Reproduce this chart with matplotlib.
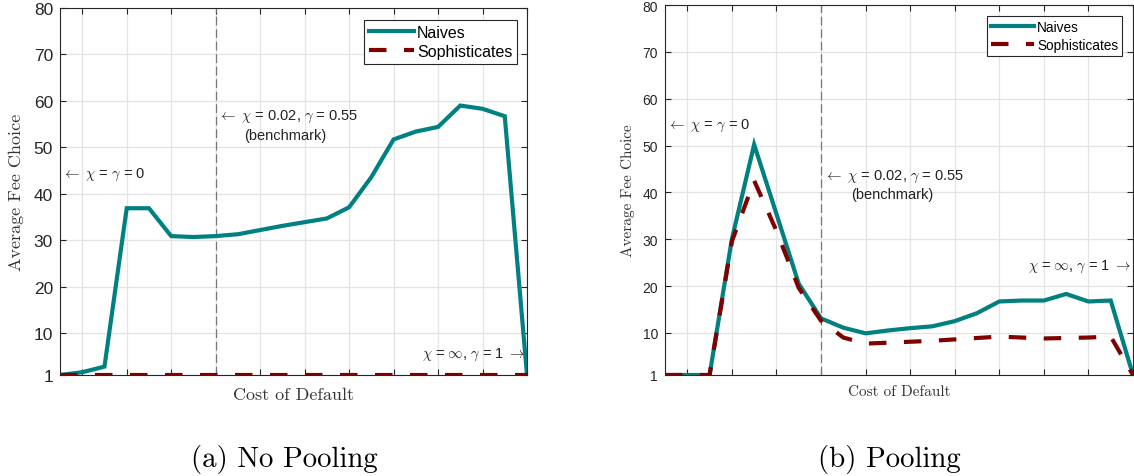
import matplotlib
matplotlib.use('Agg')
import matplotlib.pyplot as plt
import numpy as np

plt.rcParams['font.family'] = ['Liberation Sans', 'DejaVu Sans']
plt.rcParams['mathtext.fontset'] = 'cm'

# cost-of-default grid points (22 values, no labels shown)
cost_idx = np.arange(22)
x_ticks = np.arange(1, 22, 2)
y_ticks = [1, 10, 20, 30, 40, 50, 60, 70, 80]
benchmark_idx = 7

# (a) No Pooling
nopool_naives = [1.0, 1.6, 2.8, 36.9, 36.9, 30.9, 30.7, 30.9, 31.3, 32.2, 33.1, 33.9,
                 34.7, 37.1, 43.6, 51.7, 53.4, 54.4, 59.0, 58.3, 56.7, 1.0]
nopool_soph = [1.0] * 22

# (b) Pooling
pool_naives = [1.0, 1.0, 1.0, 30.0, 50.2, 35.4, 20.5, 13.1, 11.1, 9.9, 10.5, 11.0,
               11.4, 12.5, 14.2, 16.7, 16.9, 16.9, 18.3, 16.7, 16.9, 1.0]
pool_soph = [1.0, 1.0, 1.0, 29.5, 42.5, 31.8, 19.6, 12.6, 9.0, 7.7, 7.9, 8.1,
             8.3, 8.6, 8.9, 9.2, 9.0, 8.8, 8.9, 9.0, 9.2, 1.0]

teal = '#008080'
darkred = '#800000'
axcol = '#262626'

fig = plt.figure(figsize=(11.34, 4.77), dpi=100)
W, H = 1134.0, 477.0


def make_axes(l, r, t, b):
    return fig.add_axes([l / W, 1 - b / H, (r - l) / W, (b - t) / H])


def style_panel(ax, tick_size, lab_size, leg_size, hlen, anchor, ylab_x, xlab_y):
    ax.set_xlim(0, 21)
    ax.set_ylim(1, 80)
    ax.set_xticks(x_ticks)
    ax.set_xticklabels([])
    ax.set_yticks(y_ticks)
    ax.tick_params(direction='in', length=4, width=0.8, color=axcol, labelcolor=axcol,
                   labelsize=tick_size, top=True, right=True, pad=5)
    ax.grid(True, color='#e3e3e3', lw=0.9)
    ax.set_axisbelow(True)
    for s in ax.spines.values():
        s.set_color(axcol)
        s.set_linewidth(0.8)
        s.set_zorder(5)
    ax.text(ylab_x, 0.5, 'Average Fee Choice', transform=ax.transAxes, rotation=90,
            ha='center', va='center', family='cmr10', size=lab_size, color='#333333')
    ax.text(0.5, xlab_y, 'Cost of Default', transform=ax.transAxes,
            ha='center', va='center', family='cmr10', size=lab_size, color='#333333')
    leg = ax.legend(loc='upper right', fontsize=leg_size, handlelength=hlen,
                    handletextpad=0.2, borderpad=0.3, labelspacing=0.25,
                    borderaxespad=0, fancybox=False, framealpha=1, edgecolor=axcol,
                    bbox_to_anchor=anchor)
    leg.get_frame().set_linewidth(0.8)


def draw_panel(ax, naives, soph, notes):
    ax.axvline(benchmark_idx, color='#777777', lw=0.9, ls=(0, (7, 3)), zorder=2)
    ax.plot(cost_idx, naives, color=teal, lw=3.0, label='Naives', zorder=3,
            solid_joinstyle='miter')
    ax.plot(cost_idx, soph, color=darkred, lw=3.0, dashes=(4.2, 4.2),
            label='Sophisticates', zorder=4)
    for x, y, s, ha in notes:
        ax.text(x, y, s, ha=ha, va='center', size=10.5, color='#222222')


# left panel
ax1 = make_axes(60, 527, 9, 376)
draw_panel(ax1, nopool_naives, nopool_soph, [
    (0.1, 44.3, r'$\leftarrow$ $\chi$ = $\gamma$ = 0', 'left'),
    (7.1, 56.8, r'$\leftarrow$ $\chi$ = 0.02, $\gamma$ = 0.55', 'left'),
    (10.15, 52.7, '(benchmark)', 'center'),
    (20.9, 5.5, r'$\chi$ = $\infty$, $\gamma$ = 1 $\rightarrow$', 'right'),
])
style_panel(ax1, 12.5, 13, 11.5, 2.8, (0.979, 0.967), -0.094, -0.052)

# right panel
ax2 = make_axes(665, 1133, 6, 376)
draw_panel(ax2, pool_naives, pool_soph, [
    (0.1, 54.4, r'$\leftarrow$ $\chi$ = $\gamma$ = 0', 'left'),
    (7.15, 43.6, r'$\leftarrow$ $\chi$ = 0.02, $\gamma$ = 0.55', 'left'),
    (10.18, 39.6, '(benchmark)', 'center'),
    (20.9, 24.3, r'$\chi$ = $\infty$, $\gamma$ = 1 $\rightarrow$', 'right'),
])
style_panel(ax2, 10, 11, 9.8, 3.2, (0.977, 0.97), -0.079, -0.043)

fig.text(284 / W, 1 - 460 / H, '(a) No Pooling', ha='center', va='center',
         family='cmr10', size=20.8)
fig.text(889 / W, 1 - 460 / H, '(b) Pooling', ha='center', va='center',
         family='cmr10', size=20.8)

fig.savefig('out.png', dpi=100)
